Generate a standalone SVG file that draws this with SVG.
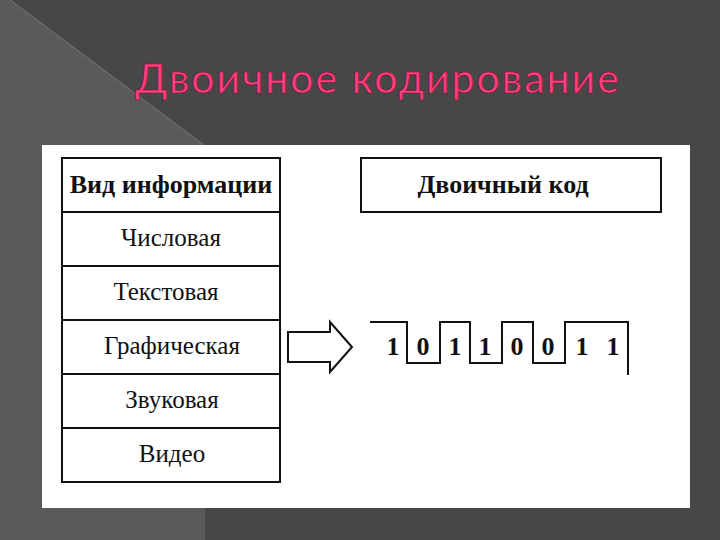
<svg xmlns="http://www.w3.org/2000/svg" width="720" height="540" viewBox="0 0 720 540">
<style>
.c{fill:#fff;stroke:#111;stroke-width:2}
.t{font-family:"Liberation Serif",serif;font-size:25px;fill:#111;text-anchor:middle}
.h{font-family:"Liberation Serif",serif;font-size:26px;font-weight:bold;fill:#111;text-anchor:middle}
.d{font-family:"Liberation Serif",serif;font-size:26px;font-weight:bold;fill:#111;text-anchor:middle}
</style>
<rect width="720" height="540" fill="#474747"/>
<polygon points="0,0 10,0 205,146 205,540 0,540" fill="#5a5a5a"/>
<line x1="10" y1="0" x2="205" y2="146" stroke="#6a6a6a" stroke-width="1.5"/>
<text x="378" y="93" font-family="Lato,'Noto Sans',sans-serif" font-size="41" fill="#ff3f7f" stroke="#7a0f33" stroke-width="0.6" text-anchor="middle" letter-spacing="2">Двоичное кодирование</text>
<rect x="42" y="145" width="648" height="363" fill="#fff"/>
<g id="table">
<g id="n0"><rect class="c" x="62" y="158" width="218" height="54"/><text class="h" x="171" y="193">Вид информации</text></g>
<g id="n1"><rect class="c" x="62" y="212" width="218" height="54"/><text class="t" x="171" y="246">Числовая</text></g>
<g id="n2"><rect class="c" x="62" y="266" width="218" height="54"/><text class="t" x="166" y="300">Текстовая</text></g>
<g id="n3"><rect class="c" x="62" y="320" width="218" height="54"/><text class="t" x="172" y="354">Графическая</text></g>
<g id="n4"><rect class="c" x="62" y="374" width="218" height="54"/><text class="t" x="172" y="408">Звуковая</text></g>
<g id="n5"><rect class="c" x="62" y="428" width="218" height="54"/><text class="t" x="172" y="462">Видео</text></g>
</g>
<g id="code"><rect class="c" x="361" y="158" width="300" height="54"/><text class="h" x="503" y="193">Двоичный код</text></g>
<g id="connectors">
<polygon points="288,332 330,332 330,322 352,347 330,372 330,362 288,362" fill="#fff" stroke="#111" stroke-width="2"/>
<polyline points="370,322 407,322 407,363 440,363 440,322 470,322 470,363 502,363 502,322 533,322 533,363 565,363 565,322 628,322 628,375" fill="none" stroke="#111" stroke-width="2"/>
</g>
<g id="bits">
<text class="d" x="393" y="355">1</text><text class="d" x="423" y="355">0</text>
<text class="d" x="455" y="355">1</text><text class="d" x="485" y="355">1</text>
<text class="d" x="517" y="355">0</text><text class="d" x="548" y="355">0</text>
<text class="d" x="582" y="355">1</text><text class="d" x="613" y="355">1</text>
</g>
</svg>
